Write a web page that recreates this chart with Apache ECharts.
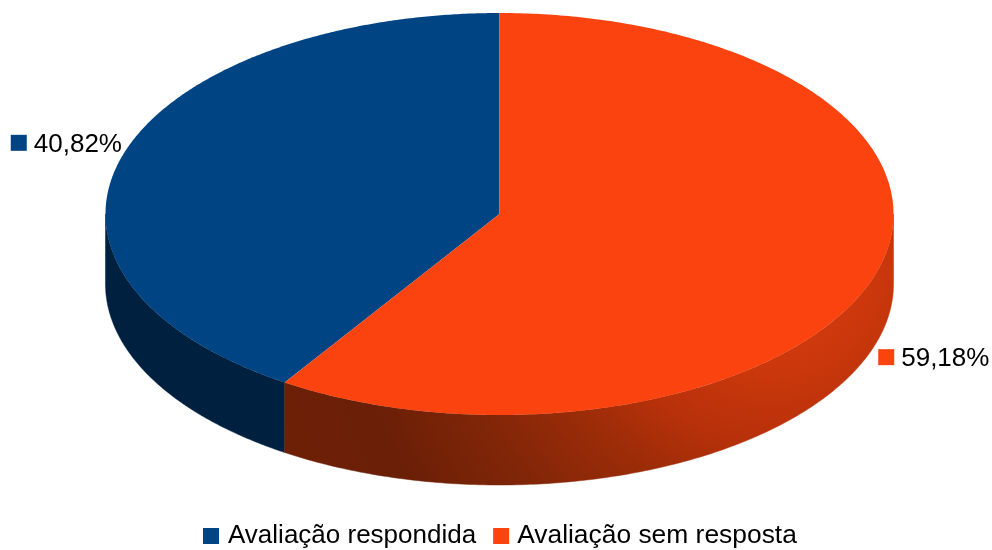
<!DOCTYPE html>
<html>
<head>
<meta charset="utf-8">
<style>html,body{margin:0;padding:0;background:#fff}#c{width:992px;height:550px}</style>
<script src="https://cdn.jsdelivr.net/npm/echarts@6/dist/echarts.min.js"></script>
</head>
<body>
<div id="c"></div>
<script>
var categories = ['Avaliação respondida', 'Avaliação sem resposta'];
var values = [40.82, 59.18];
var topColors = ['#004484', '#fb430f'];

var FONT = '"Liberation Sans", Arial, sans-serif';
var total = values[0] + values[1];
var chart = echarts.init(document.getElementById('c'), null, {renderer: 'canvas'});

var CX = 499.5, CY = 214, RX = 394, RY = 201, DEPTH = 70;
function pt(t, dy) {
  return [CX + RX * Math.sin(t), CY - RY * Math.cos(t) + (dy || 0)];
}
var sideFills = [
  '#002040',
  new echarts.graphic.RadialGradient(770, 262, 520, [
    {offset: 0, color: '#d83c0e'},
    {offset: 0.2, color: '#cc380c'},
    {offset: 0.34, color: '#b8310a'},
    {offset: 0.46, color: '#9c2c08'},
    {offset: 0.62, color: '#822608'},
    {offset: 0.81, color: '#6a1f06'},
    {offset: 1, color: '#6e2006'}
  ], true)
];
// Slice geometry: the first value runs counter-clockwise from 12 o'clock, the second fills the rest.
function sliceRange(idx) {
  var f0 = values[0] / total;
  return idx === 0 ? [2 * Math.PI * (1 - f0), 2 * Math.PI] : [0, 2 * Math.PI * (1 - f0)];
}
function makeRender(idx) {
  return function (params, api) {
    var v = api.value(0);
    var r = sliceRange(idx);
    var children = [];
    var a = Math.max(r[0], Math.PI / 2), b = Math.min(r[1], 3 * Math.PI / 2);
    var i, n = 180, side = [];
    for (i = 0; i <= n; i++) side.push(pt(a + (b - a) * i / n));
    for (i = n; i >= 0; i--) side.push(pt(a + (b - a) * i / n, DEPTH));
    children.push({type: 'polygon', shape: {points: side}, style: {fill: sideFills[idx], stroke: sideFills[idx], lineWidth: 0.5}});
    var top = [[CX, CY]];
    n = 360;
    for (i = 0; i <= n; i++) top.push(pt(r[0] + (r[1] - r[0]) * i / n));
    children.push({type: 'polygon', shape: {points: top}, style: {fill: topColors[idx]}});
    // Percentage tag placed next to the slice's outer edge
    var mid = (r[0] + r[1]) / 2;
    var anchor = pt(mid);
    var lx = idx === 0 ? anchor[0] - 111 : anchor[0] + 1;
    var ly = idx === 0 ? anchor[1] - 14 : anchor[1] + 86;
    children.push({type: 'rect', shape: {x: lx, y: ly - 8, width: 16, height: 16}, style: {fill: topColors[idx]}});
    children.push({type: 'text', style: {x: lx + 23, y: ly + 1.5, text: v.toFixed(2).replace('.', ',') + '%', fill: '#000', font: '26px ' + FONT, textAlign: 'left', textVerticalAlign: 'middle'}});
    return {type: 'group', children: children};
  };
}
chart.setOption({
  animation: false,
  backgroundColor: '#fff',
  legend: {
    data: [
      {name: categories[0], textStyle: {fontSize: 26}},
      {name: categories[1], textStyle: {fontSize: 26.4, padding: [0, 0, 0, 3]}}
    ],
    left: 198, top: 518,
    icon: 'rect', itemWidth: 16, itemHeight: 16, itemGap: 17,
    selectedMode: false,
    textStyle: {color: '#000', fontFamily: FONT, fontSize: 26, padding: [0, 0, 0, 4]}
  },
  series: categories.map(function (name, idx) {
    return {
      type: 'custom', name: name, coordinateSystem: 'none',
      itemStyle: {color: topColors[idx]},
      renderItem: makeRender(idx),
      data: [[values[idx]]]
    };
  })
});
</script>
</body>
</html>
